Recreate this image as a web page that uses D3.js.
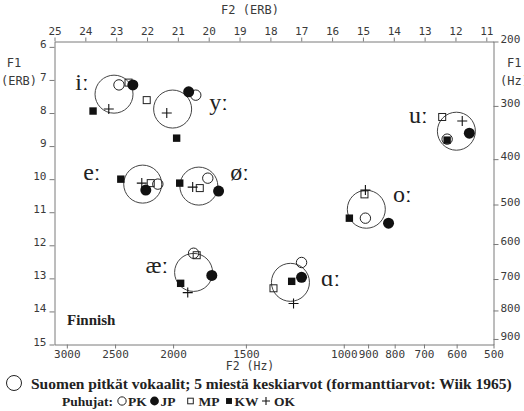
<!DOCTYPE html>
<html>
<head>
<meta charset="utf-8">
<script src="https://cdn.jsdelivr.net/npm/d3@7"></script>
<style>
body { margin: 0; background: #fff; }
</style>
</head>
<body>
<div id="chart"></div>
<script>
// Finnish long vowels, F2 / F1 as ERB values
var vowels = ['iː', 'yː', 'eː', 'øː', 'æː', 'ɑː', 'oː', 'uː'];
var meanF2 = [23.07, 21.17, 22.14, 20.32, 20.49, 17.35, 14.89, 11.97];
var meanF1 = [7.43, 7.88, 10.15, 10.21, 12.82, 13.12, 10.91, 8.55];

// speakers
var pkF2 = [22.91, 20.42, 21.65, 20.03, 20.49, 16.99, 14.92, 12.27];
var pkF1 = [7.15, 7.46, 10.15, 9.97, 12.24, 12.52, 11.18, 8.79];
var jpF2 = [22.46, 20.65, 22.04, 19.68, 19.90, 16.99, 14.17, 11.55];
var jpF1 = [7.15, 7.36, 10.33, 10.36, 12.91, 12.97, 11.33, 8.61];
var mpF2 = [22.60, 22.01, 21.88, 20.29, 20.39, 17.90, 14.95, 12.43];
var mpF1 = [7.08, 7.61, 10.12, 10.27, 12.30, 13.30, 10.46, 8.12];
var kwF2 = [23.75, 21.04, 22.85, 20.94, 20.91, 17.31, 15.44, 12.27];
var kwF1 = [7.94, 8.76, 10.00, 10.12, 13.15, 13.09, 11.18, 8.82];
var okF2 = [23.24, 21.36, 22.17, 20.52, 20.68, 17.25, 14.92, 11.78];
var okF1 = [7.88, 8.00, 10.12, 10.24, 13.43, 13.76, 10.33, 8.24];

// where the vowel symbols sit (ERB)
var labelF2 = [24.11, 19.68, 23.79, 19.00, 21.68, 16.05, 13.72, 13.20];
var labelF1 = [7.12, 7.73, 9.83, 9.84, 12.67, 13.05, 10.51, 8.12];

var f2ErbTicks = [25, 24, 23, 22, 21, 20, 19, 18, 17, 16, 15, 14, 13, 12, 11];
var f1ErbTicks = [6, 7, 8, 9, 10, 11, 12, 13, 14, 15];
var f2HzTicks = [3000, 2500, 2000, 1500, 1000, 900, 800, 700, 600, 500];
var f1HzTicks = [200, 300, 400, 500, 600, 700, 800, 900];

drawChart();

function erb(f) {
    return 21.4 * Math.log10(0.00437 * f + 1);
}

function drawChart() {

    var width = 524;
    var height = 411;

    var plotLeft = 54.5, plotRight = 493.5, plotTop = 41.5, plotBottom = 344.5;
    var mono = "'DejaVu Sans Mono', monospace";
    var serif = "'Liberation Serif', 'DejaVu Serif', serif";
    var axisColor = '#7a7a7a';
    var labelColor = '#3a3a3a';

    var svg = d3.select('#chart')
        .append('svg')
        .attr('width', width)
        .attr('height', height);

    var x = d3.scaleLinear().domain([25, erb(500)]).range([plotLeft, plotRight]);
    var y = d3.scaleLinear().domain([erb(200), 15]).range([plotTop, plotBottom]);

    function styleAxis(g) {
        g.attr('font-family', mono).attr('font-size', 11);
        g.select('.domain').attr('stroke', axisColor);
        g.selectAll('.tick line').attr('stroke', axisColor);
        g.selectAll('.tick text').attr('fill', labelColor);
    }

    // top: F2 in ERB
    svg.append('g')
        .attr('transform', 'translate(0,' + plotTop + ')')
        .call(d3.axisTop(x).tickValues(f2ErbTicks).tickSizeInner(4).tickSizeOuter(0).tickPadding(3).tickFormat(d3.format('d')))
        .call(styleAxis);

    // bottom: F2 in Hz
    svg.append('g')
        .attr('transform', 'translate(0,' + plotBottom + ')')
        .call(d3.axisBottom(x).tickValues(f2HzTicks.map(erb)).tickSizeInner(4).tickSizeOuter(0).tickPadding(2)
            .tickFormat((d, i) => f2HzTicks[i]))
        .call(styleAxis);

    // left: F1 in ERB
    var gLeft = svg.append('g')
        .attr('transform', 'translate(' + plotLeft + ',0)')
        .call(d3.axisLeft(y).tickValues(f1ErbTicks).tickSizeInner(5).tickSizeOuter(0).tickPadding(3))
        .call(styleAxis);
    gLeft.selectAll('.tick text').attr('dy', '0.05em');

    // right: F1 in Hz
    var gRight = svg.append('g')
        .attr('transform', 'translate(' + plotRight + ',0)')
        .call(d3.axisRight(y).tickValues(f1HzTicks.map(erb)).tickSizeInner(5).tickSizeOuter(0).tickPadding(2)
            .tickFormat((d, i) => f1HzTicks[i]))
        .call(styleAxis);
    gRight.selectAll('.tick text').attr('dy', '0.05em');

    // axis titles
    svg.append('text').attr('x', 250).attr('y', 14).attr('text-anchor', 'middle')
        .attr('font-family', mono).attr('font-size', 12).attr('fill', labelColor).text('F2 (ERB)');
    svg.append('text').attr('x', 250).attr('y', 370).attr('text-anchor', 'middle')
        .attr('font-family', mono).attr('font-size', 11.5).attr('fill', labelColor).text('F2 (Hz)');
    svg.append('text').attr('x', 14).attr('y', 67).attr('text-anchor', 'middle')
        .attr('font-family', mono).attr('font-size', 12).attr('fill', labelColor).text('F1');
    svg.append('text').attr('x', 19).attr('y', 85).attr('text-anchor', 'middle')
        .attr('font-family', mono).attr('font-size', 12).attr('fill', labelColor).text('(ERB)');
    svg.append('text').attr('x', 507).attr('y', 67)
        .attr('font-family', mono).attr('font-size', 12).attr('fill', labelColor).text('F1');
    svg.append('text').attr('x', 500).attr('y', 85)
        .attr('font-family', mono).attr('font-size', 12).attr('fill', labelColor).text('(Hz)');

    var plot = svg.append('g');

    // mean circles
    plot.selectAll('circle.mean')
        .data(vowels)
        .enter()
        .append('circle')
        .attr('class', 'mean')
        .attr('cx', (d, i) => x(meanF2[i]))
        .attr('cy', (d, i) => y(meanF1[i]))
        .attr('r', 19)
        .attr('fill', 'none')
        .attr('stroke', '#444')
        .attr('stroke-width', 1);

    // vowel symbols
    plot.selectAll('text.vowel')
        .data(vowels)
        .enter()
        .append('text')
        .attr('class', 'vowel')
        .attr('x', (d, i) => x(labelF2[i]))
        .attr('y', (d, i) => y(labelF1[i]))
        .attr('dy', '0.25em')
        .attr('text-anchor', 'middle')
        .attr('font-family', serif)
        .attr('font-size', 24)
        .attr('fill', '#222')
        .text(d => d);

    var speakers = [
        { code: 'PK', shape: 'openCircle', f2: pkF2, f1: pkF1 },
        { code: 'MP', shape: 'openSquare', f2: mpF2, f1: mpF1 },
        { code: 'OK', shape: 'plus', f2: okF2, f1: okF1 },
        { code: 'JP', shape: 'dot', f2: jpF2, f1: jpF1 },
        { code: 'KW', shape: 'square', f2: kwF2, f1: kwF1 }
    ];

    function drawMarker(g, shape, cx, cy, k) {
        k = k || 1;
        if (shape === 'openCircle') {
            g.append('circle').attr('cx', cx).attr('cy', cy).attr('r', 5.2 * k)
                .attr('fill', 'none').attr('stroke', '#222').attr('stroke-width', 1);
        } else if (shape === 'dot') {
            g.append('circle').attr('cx', cx).attr('cy', cy).attr('r', 5.5 * k).attr('fill', '#111');
        } else if (shape === 'openSquare') {
            g.append('rect').attr('x', cx - 3.5 * k).attr('y', cy - 3.5 * k).attr('width', 7 * k).attr('height', 7 * k)
                .attr('fill', 'none').attr('stroke', '#222').attr('stroke-width', 1);
        } else if (shape === 'square') {
            g.append('rect').attr('x', cx - 3.7 * k).attr('y', cy - 3.7 * k).attr('width', 7.4 * k).attr('height', 7.4 * k)
                .attr('fill', '#111');
        } else if (shape === 'plus') {
            var a = 5 * k;
            g.append('path').attr('d', 'M' + (cx - a) + ',' + cy + 'H' + (cx + a) + 'M' + cx + ',' + (cy - a) + 'V' + (cy + a))
                .attr('stroke', '#111').attr('stroke-width', 1.1);
        }
    }

    speakers.forEach(function(s) {
        var g = plot.append('g').attr('class', 'speaker-' + s.code);
        vowels.forEach(function(v, i) {
            drawMarker(g, s.shape, x(s.f2[i]), y(s.f1[i]));
        });
    });

    // corner note
    svg.append('text').attr('x', 67).attr('y', 325)
        .attr('font-family', serif).attr('font-size', 15).attr('font-weight', 'bold').attr('fill', '#222')
        .text('Finnish');

    // caption
    svg.append('circle').attr('cx', 14).attr('cy', 383).attr('r', 7.5)
        .attr('fill', 'none').attr('stroke', '#222').attr('stroke-width', 1);
    svg.append('text').attr('x', 31).attr('y', 388.5)
        .attr('font-family', serif).attr('font-size', 15.5).attr('font-weight', 'bold').attr('fill', '#222')
        .text('Suomen pitkät vokaalit; 5 miestä keskiarvot (formanttiarvot: Wiik 1965)');

    var legendItems = [
        { code: 'PK', shape: 'openCircle', x: 122, tx: 128 },
        { code: 'JP', shape: 'dot', x: 154.5, tx: 160.5 },
        { code: 'MP', shape: 'openSquare', x: 190.5, tx: 198.5 },
        { code: 'KW', shape: 'square', x: 229, tx: 234.5 },
        { code: 'OK', shape: 'plus', x: 266, tx: 274 }
    ];
    var legend = svg.append('g');
    legend.append('text').attr('x', 62).attr('y', 405.5)
        .attr('font-family', serif).attr('font-size', 13.5).attr('font-weight', 'bold').attr('fill', '#222')
        .text('Puhujat:');
    legendItems.forEach(function(d) {
        drawMarker(legend, d.shape, d.x, 401, 0.8);
        legend.append('text').attr('x', d.tx).attr('y', 405.5)
            .attr('font-family', serif).attr('font-size', 13.5).attr('font-weight', 'bold').attr('fill', '#222')
            .text(d.code);
    });
}
</script>
</body>
</html>
